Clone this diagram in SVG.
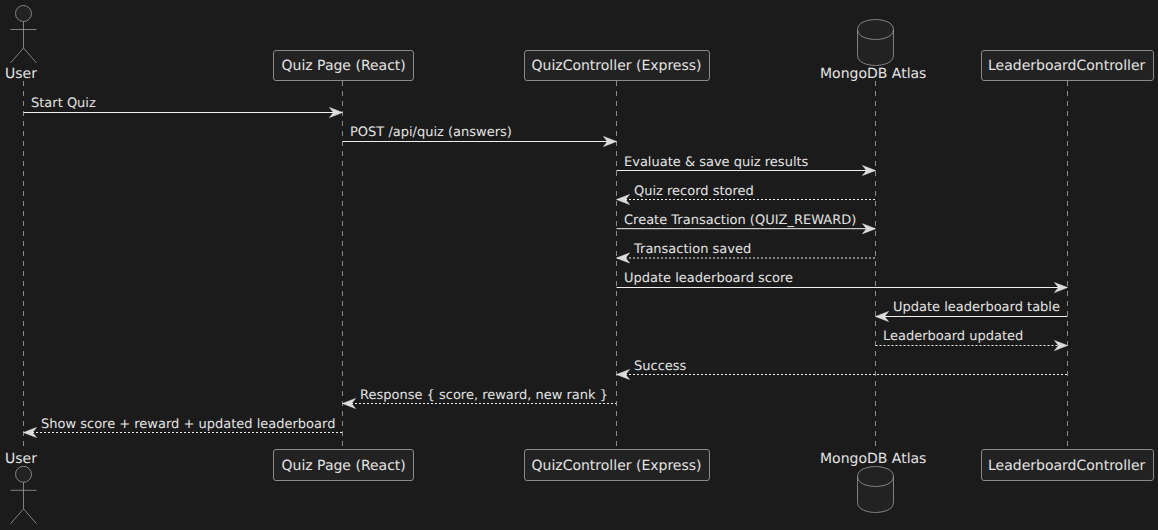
<svg xmlns="http://www.w3.org/2000/svg" width="1158" height="530" viewBox="0 0 1158 530">
<style>
text{font-family:"DejaVu Sans",sans-serif;fill:#e3e3e3;text-rendering:geometricPrecision}
.t{opacity:.999}
.p{font-size:14px}
.m{font-size:13px}
.box{fill:#222222;stroke:#8a8a8a;stroke-width:1}
.shape{fill:#222222;stroke:#9a9a9a;stroke-width:.8}
.act{fill:none;stroke:#9a9a9a;stroke-width:.8}
.life{stroke:#8a8a8a;stroke-width:1;stroke-dasharray:5 5;fill:none}
.msg{stroke:#eeeeee;stroke-width:1;fill:none}
.ret{stroke:#eeeeee;stroke-width:1;stroke-dasharray:2 2;fill:none}
.head{fill:#dcdcdc;stroke:#eeeeee;stroke-width:.5}
</style>
<defs>
<g id="actor"><circle class="shape" cx="23.5" cy="13.5" r="8"/><path class="act" d="M23.5 21.5V48M10.5 29.5H36.5M23.5 48L10.5 63M23.5 48L36.5 63"/></g>
<g id="db"><path class="shape" d="M857.5 29.5C857.5 19.5 875.5 19.5 875.5 19.5C875.5 19.5 893.5 19.5 893.5 29.5V55.5C893.5 65.5 875.5 65.5 875.5 65.5C875.5 65.5 857.5 65.5 857.5 55.5Z"/><path class="act" d="M857.5 29.5C857.5 39.5 875.5 39.5 875.5 39.5C875.5 39.5 893.5 39.5 893.5 29.5"/></g>
<path id="r" class="head" d="M0 0L-13 -5L-9 0L-13 5Z"/>
<path id="l" class="head" d="M0 0L13 -5L9 0L13 5Z"/>
</defs>
<rect width="1158" height="530" fill="#1b1b1b"/>
<g id="lifelines">
<path class="life" d="M23.5 81V446"/>
<path class="life" d="M342.5 81V446"/>
<path class="life" d="M616.5 81V446"/>
<path class="life" d="M875.5 81V446"/>
<path class="life" d="M1067.5 81V446"/>
</g>
<g id="user-top"><use href="#actor"/><text class="p t" x="5" y="78">User</text></g>
<g id="quiz-page-top"><rect class="box" x="273.5" y="50.5" width="140" height="30" rx="2.5"/><text class="p t" x="281.5" y="70">Quiz Page (React)</text></g>
<g id="quiz-controller-top"><rect class="box" x="524.5" y="50.5" width="185" height="30" rx="2.5"/><text class="p t" x="531.5" y="70">QuizController (Express)</text></g>
<g id="mongo-top"><use href="#db"/><text class="p t" x="820" y="78">MongoDB Atlas</text></g>
<g id="leaderboard-top"><rect class="box" x="981.5" y="50.5" width="172" height="30" rx="2.5"/><text class="p t" x="988" y="70">LeaderboardController</text></g>
<g id="user-bottom"><text class="p t" x="5" y="463">User</text><use href="#actor" y="460.8"/></g>
<g id="quiz-page-bottom"><rect class="box" x="273.5" y="449.5" width="140" height="31" rx="2.5"/><text class="p t" x="281.5" y="470">Quiz Page (React)</text></g>
<g id="quiz-controller-bottom"><rect class="box" x="524.5" y="449.5" width="185" height="31" rx="2.5"/><text class="p t" x="531.5" y="470">QuizController (Express)</text></g>
<g id="mongo-bottom"><text class="p t" x="820" y="463">MongoDB Atlas</text><use href="#db" y="447"/></g>
<g id="leaderboard-bottom"><rect class="box" x="981.5" y="449.5" width="172" height="31" rx="2.5"/><text class="p t" x="988" y="470">LeaderboardController</text></g>
<g id="connectors">
<path class="msg" d="M23.5 112.5H342"/><use href="#r" x="342.5" y="112.5"/>
<path class="msg" d="M342.5 141.5H616"/><use href="#r" x="616.5" y="141.5"/>
<path class="msg" d="M616.5 170.5H875"/><use href="#r" x="875.5" y="170.5"/>
<path class="ret" d="M617 199.5H875"/><use href="#l" x="616.5" y="199.5"/>
<path class="msg" d="M616.5 228.7H875"/><use href="#r" x="875.5" y="228.7"/>
<path class="ret" d="M617 258H875"/><use href="#l" x="616.5" y="258"/>
<path class="msg" d="M616.5 287.5H1067"/><use href="#r" x="1067.5" y="287.5"/>
<path class="msg" d="M876 316.5H1067.5"/><use href="#l" x="875.5" y="316.5"/>
<path class="ret" d="M875.5 345.5H1067"/><use href="#r" x="1067.5" y="345.5"/>
<path class="ret" d="M617 374.5H1067.5"/><use href="#l" x="616.5" y="374.5"/>
<path class="ret" d="M343 403.5H616.5"/><use href="#l" x="342.5" y="403.5"/>
<path class="ret" d="M24 432.5H342.5"/><use href="#l" x="23.5" y="432.5"/>
</g>
<g id="labels" class="t">
<text class="m" x="31" y="107.3">Start Quiz</text>
<text class="m" x="350" y="136.4">POST /api/quiz (answers)</text>
<text class="m" x="624" y="165.6">Evaluate &amp; save quiz results</text>
<text class="m" x="634" y="194.7">Quiz record stored</text>
<text class="m" x="624" y="223.8">Create Transaction (QUIZ_REWARD)</text>
<text class="m" x="634" y="253">Transaction saved</text>
<text class="m" x="624" y="282.2">Update leaderboard score</text>
<text class="m" x="893" y="311.3">Update leaderboard table</text>
<text class="m" x="883" y="340.4">Leaderboard updated</text>
<text class="m" x="634" y="369.6">Success</text>
<text class="m" x="360" y="398.7">Response { score, reward, new rank }</text>
<text class="m" x="41" y="427.9">Show score + reward + updated leaderboard</text>
</g>
</svg>
